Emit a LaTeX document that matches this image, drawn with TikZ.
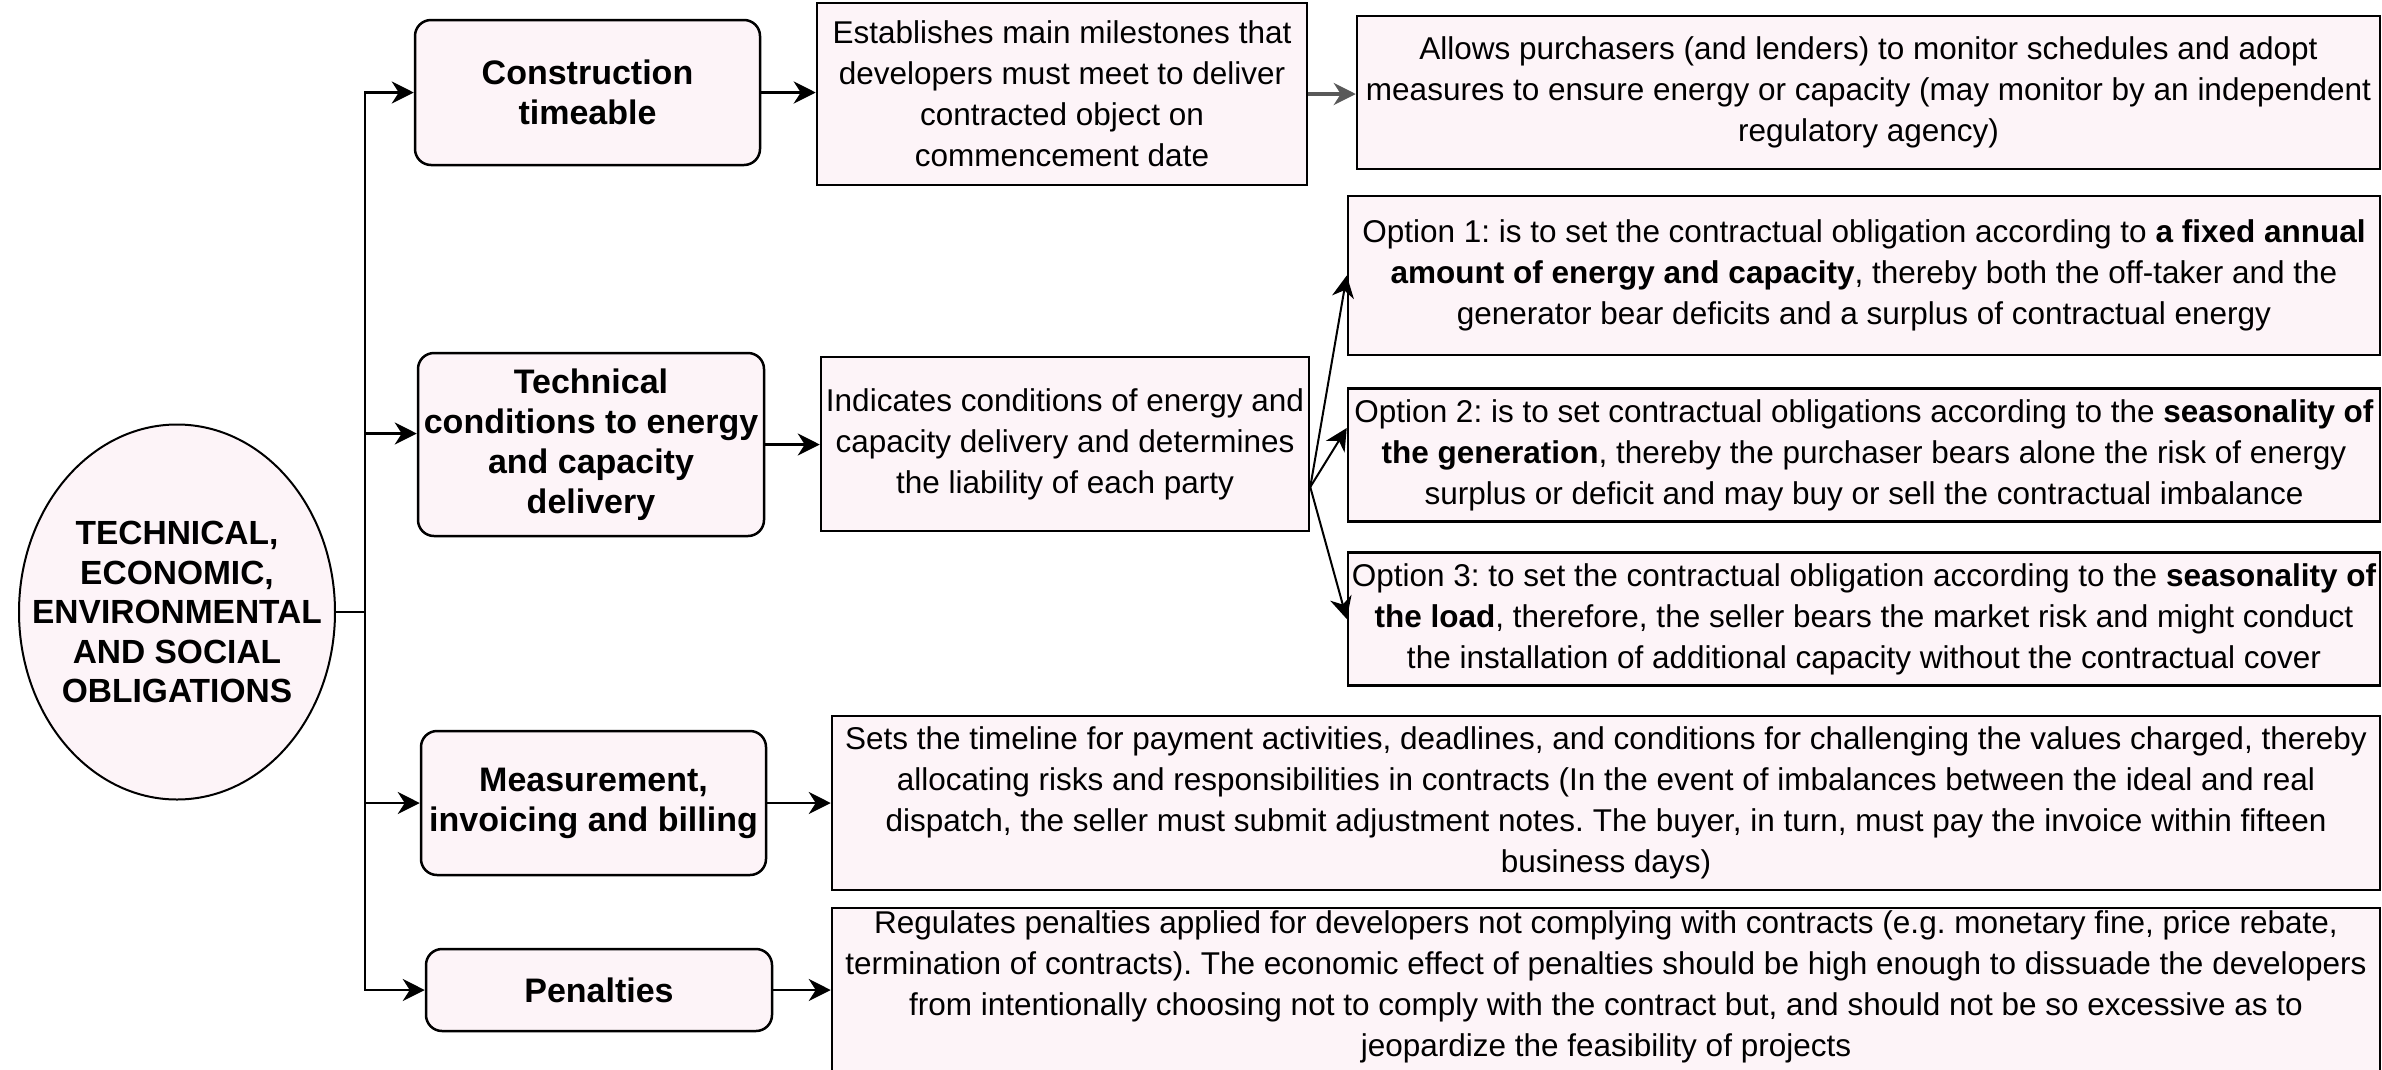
\documentclass[tikz,border=0pt]{standalone}
\usepackage{fontspec}
\setmainfont{Liberation Sans}
\usetikzlibrary{arrows.meta,shapes.geometric}
\definecolor{boxfill}{RGB}{253,244,248}
\frenchspacing
\begin{document}
\begin{tikzpicture}[x=1pt,y=-1pt,
 box/.style={draw=black, line width=2.5pt, fill=boxfill, inner sep=0pt, align=center},
 lab/.style={box, rounded corners=16pt, font=\fontsize{34}{40}\selectfont\bfseries},
 desc/.style={box, font=\fontsize{31.5}{41}\selectfont},
 arr/.style={line width=2.5pt, -{Stealth[length=22pt,width=22pt,inset=7pt]}}]
\useasboundingbox (0,0) rectangle (2382,1069);
\fill[white] (0,0) rectangle (2382,1069);

\node[box, ellipse, line width=2pt, inner xsep=-45pt, inner ysep=-20pt, minimum width=316pt, minimum height=375pt, font=\fontsize{33.5}{39.5}\selectfont\bfseries] (ell) at (177,612) {TECHNICAL,\\ECONOMIC,\\ENVIRONMENTAL\\AND SOCIAL\\OBLIGATIONS};

\node[lab, minimum width=345pt, minimum height=145pt] (cons) at (587.5,92.5) {Construction\\timeable};
\node[lab, minimum width=346pt, minimum height=183pt] (tech) at (591,444.5) {Technical\\conditions to energy\\and capacity\\delivery};
\node[lab, minimum width=345pt, minimum height=144pt] (meas) at (593.5,803) {Measurement,\\invoicing and billing};
\node[lab, minimum width=346pt, minimum height=82pt] (pen) at (599,990) {Penalties};

\node[desc, minimum width=490pt, minimum height=182pt] (est) at (1062,94) {Establishes main milestones that\\developers must meet to deliver\\contracted object on\\commencement date};
\node[desc, minimum width=1023pt, minimum height=153pt] (allow) at (1868.5,92.5) {Allows purchasers (and lenders) to monitor schedules and adopt\\measures to ensure energy or capacity (may monitor by an independent\\regulatory agency)};
\node[desc, minimum width=488pt, minimum height=174pt] (ind) at (1065,444) {Indicates conditions of energy and\\capacity delivery and determines\\the liability of each party};
\node[desc, minimum width=1032pt, minimum height=159pt] (opt1) at (1864,275.5) {Option 1: is to set the contractual obligation according to \textbf{a fixed annual}\\\textbf{amount of energy and capacity}, thereby both the off-taker and the\\generator bear deficits and a surplus of contractual energy};
\node[desc, minimum width=1032pt, minimum height=133pt] (opt2) at (1864,455) {Option 2: is to set contractual obligations according to the \textbf{seasonality of}\\\textbf{the generation}, thereby the purchaser bears alone the risk of energy\\surplus or deficit and may buy or sell the contractual imbalance};
\node[desc, minimum width=1032pt, minimum height=133pt] (opt3) at (1864,619) {Option 3: to set the contractual obligation according to the \textbf{seasonality of}\\\textbf{the load}, therefore, the seller bears the market risk and might conduct\\the installation of additional capacity without the contractual cover};
\node[desc, minimum width=1548pt, minimum height=174pt] (measd) at (1606,803) {Sets the timeline for payment activities, deadlines, and conditions for challenging the values charged, thereby\\allocating risks and responsibilities in contracts (In the event of imbalances between the ideal and real\\dispatch, the seller must submit adjustment notes. The buyer, in turn, must pay the invoice within fifteen\\business days)};
\node[desc, minimum width=1548pt, minimum height=172pt] (pend) at (1606,994) {Regulates penalties applied for developers not complying with contracts (e.g. monetary fine, price rebate,\\termination of contracts). The economic effect of penalties should be high enough to dissuade the developers\\from intentionally choosing not to comply with the contract but, and should not be so excessive as to\\jeopardize the feasibility of projects\\[-20pt]\mbox{}};

\draw[arr] (ell.east) -- ++(29,0) |- (cons.west);
\draw[arr] (ell.east) -- ++(29,0) |- ([yshift=11pt]tech.west);
\draw[arr] (ell.east) -- ++(29,0) |- (meas.west);
\draw[arr] (ell.east) -- ++(29,0) |- (pen.west);

\draw[arr, line width=3.5pt] (cons.east) -- (cons.east -| est.west);
\draw[arr, line width=3.5pt, draw=black!65] (est.east) -- (est.east -| allow.west);
\draw[arr] (tech.east) -- (tech.east -| ind.west);
\draw[arr] (meas.east) -- (meas.east -| measd.west);
\draw[arr] (pen.east) -- (pen.east -| pend.west);

\draw[arr, line width=2pt] ([yshift=-43pt]ind.east) -- (opt1.west);
\draw[arr, line width=2pt] ([yshift=-43pt]ind.east) -- ([yshift=27pt]opt2.west);
\draw[arr, line width=2pt] ([yshift=-43pt]ind.east) -- (opt3.west);
\end{tikzpicture}
\end{document}
